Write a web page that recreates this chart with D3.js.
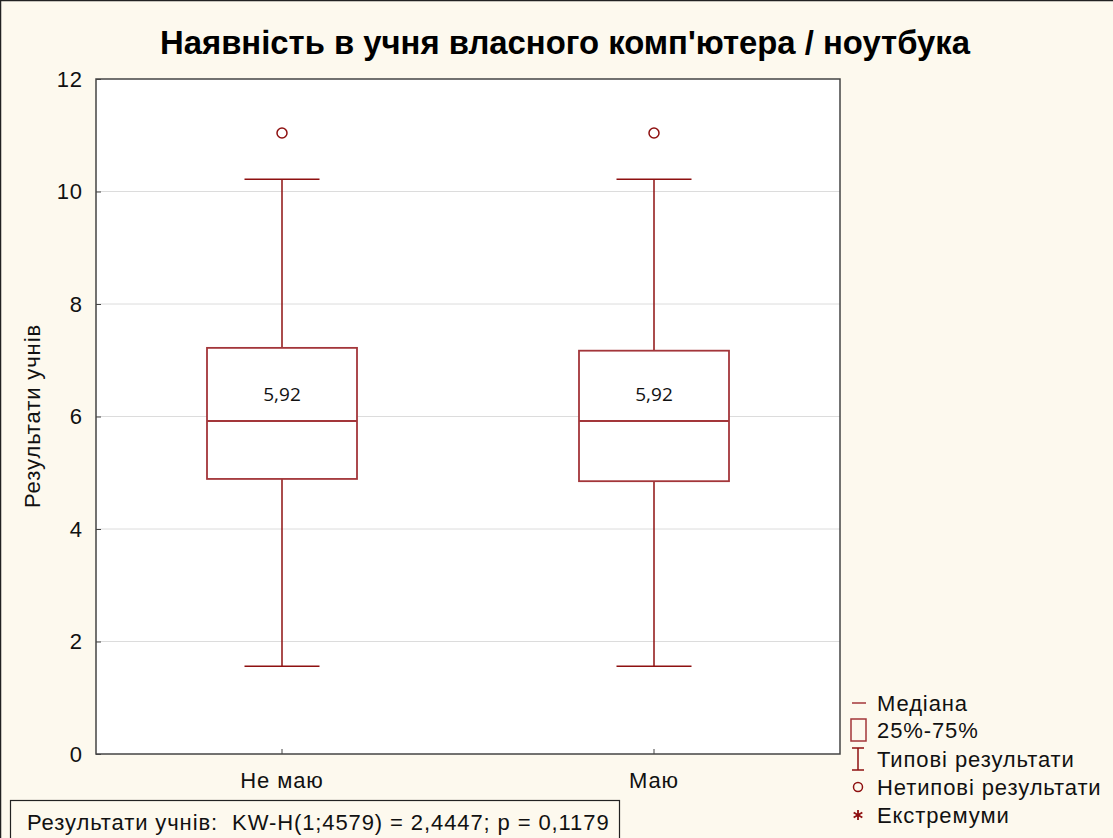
<!DOCTYPE html>
<html><head><meta charset="utf-8">
<script src="https://cdn.jsdelivr.net/npm/d3@7"></script>
<style>
html,body{margin:0;padding:0;background:#fdf9ee;}
svg{display:block;}
text{white-space:pre;}
</style></head>
<body>
<svg id="chart" width="1113" height="838" font-family="Liberation Sans, Arial, sans-serif"></svg>
<script>
const title = "Наявність в учня власного комп'ютера / ноутбука";
const categories = ["Не маю", "Маю"];
const q1 = [4.89, 4.85];
const median = [5.92, 5.92];
const q3 = [7.22, 7.17];
const whiskerLow = [1.56, 1.56];
const whiskerHigh = [10.22, 10.22];
const outliers = [[11.04], [11.04]];
const medianLabels = ["5,92", "5,92"];
const yTicks = [0, 2, 4, 6, 8, 10, 12];
const yLabel = "Результати учнів";
const statText = "Результати учнів:  KW-H(1;4579) = 2,4447; p = 0,1179";
const legendItems = ["Медіана", "25%-75%", "Типові результати", "Нетипові результати", "Екстремуми"];

const svg = d3.select("#chart");
const W = 1113, H = 838;
const red = "#8e1010";
const boxRed = "#a3363a";
const FS = 22, LS = 0.9;
const baseFont = "Liberation Sans, Arial, sans-serif";

svg.append("rect").attr("x",0.5).attr("y",0.5).attr("width",W+5).attr("height",H+5)
  .attr("fill","#fdf9ee").attr("stroke","#222").attr("stroke-width",1.5);

const m = {left:96, right:840, top:79, bottom:754};
const x = d3.scaleBand().domain(categories).range([m.left, m.right]);
const y = d3.scaleLinear().domain([0,12]).range([m.bottom, m.top]);

svg.append("rect").attr("x",m.left).attr("y",m.top).attr("width",m.right-m.left).attr("height",m.bottom-m.top)
  .attr("fill","#ffffff");

svg.append("g").selectAll("line").data(yTicks.filter(d=>d>0&&d<12)).join("line")
  .attr("x1",m.left).attr("x2",m.right).attr("y1",d=>y(d)).attr("y2",d=>y(d))
  .attr("stroke","#dcdcdc").attr("stroke-width",1);

const yAxis = d3.axisLeft(y).tickValues(yTicks).tickSize(-5).tickPadding(13).tickFormat(d3.format("d"));
const gy = svg.append("g").attr("transform",`translate(${m.left},0)`).call(yAxis);
gy.select(".domain").remove();
gy.selectAll("text").attr("font-size",FS).attr("letter-spacing",LS).attr("fill","#111").attr("font-family",baseFont);
gy.selectAll("line").attr("stroke","#444");

const xAxis = d3.axisBottom(x).tickSize(-5).tickPadding(18);
const gx = svg.append("g").attr("transform",`translate(0,${m.bottom})`).call(xAxis);
gx.select(".domain").remove();
gx.selectAll("text").attr("font-size",FS).attr("letter-spacing",LS).attr("fill","#111").attr("font-family",baseFont);
gx.selectAll("line").attr("stroke","#444");

svg.append("rect").attr("x",m.left).attr("y",m.top).attr("width",m.right-m.left).attr("height",m.bottom-m.top)
  .attr("fill","none").attr("stroke","#444").attr("stroke-width",1.5);

const boxW = 150, capW = 75;
categories.forEach((c,i)=>{
  const cx = x(c) + x.bandwidth()/2;
  const g = svg.append("g");
  g.append("line").attr("x1",cx).attr("x2",cx).attr("y1",y(whiskerHigh[i])).attr("y2",y(q3[i])).attr("stroke",red).attr("stroke-width",1.5);
  g.append("line").attr("x1",cx).attr("x2",cx).attr("y1",y(q1[i])).attr("y2",y(whiskerLow[i])).attr("stroke",red).attr("stroke-width",1.5);
  g.append("line").attr("x1",cx-capW/2).attr("x2",cx+capW/2).attr("y1",y(whiskerHigh[i])).attr("y2",y(whiskerHigh[i])).attr("stroke",red).attr("stroke-width",1.5);
  g.append("line").attr("x1",cx-capW/2).attr("x2",cx+capW/2).attr("y1",y(whiskerLow[i])).attr("y2",y(whiskerLow[i])).attr("stroke",red).attr("stroke-width",1.5);
  g.append("rect").attr("x",cx-boxW/2).attr("y",y(q3[i])).attr("width",boxW).attr("height",y(q1[i])-y(q3[i]))
    .attr("fill","#fff").attr("stroke",boxRed).attr("stroke-width",1.8);
  g.append("line").attr("x1",cx-boxW/2).attr("x2",cx+boxW/2).attr("y1",y(median[i])).attr("y2",y(median[i])).attr("stroke",boxRed).attr("stroke-width",1.8);
  g.append("text").attr("x",cx).attr("y",y(median[i])-20).attr("text-anchor","middle")
    .style("font-family","'Open Sans', 'DejaVu Sans', sans-serif").attr("font-size",19).attr("fill","#111").text(medianLabels[i]);
  g.selectAll("circle").data(outliers[i]).join("circle").attr("cx",cx).attr("cy",d=>y(d)).attr("r",5)
    .attr("fill","none").attr("stroke",red).attr("stroke-width",1.5);
});

svg.append("text").attr("x",565).attr("y",54).attr("text-anchor","middle")
  .style("font-family","'Liberation Sans Narrow', 'Arial Narrow', 'Liberation Sans', sans-serif")
  .attr("font-weight","bold").attr("font-size",34).attr("fill","#000")
  .attr("textLength",810).attr("lengthAdjust","spacingAndGlyphs").text(title);

svg.append("text").attr("transform","translate(40,416) rotate(-90)").attr("text-anchor","middle")
  .attr("font-size",FS).attr("letter-spacing",LS).attr("fill","#111").text(yLabel);

const ly = [703, 730, 759, 787, 815];
const lg = svg.append("g");
lg.append("line").attr("x1",852).attr("x2",866).attr("y1",ly[0]).attr("y2",ly[0]).attr("stroke",boxRed).attr("stroke-width",1.5);
lg.append("rect").attr("x",851).attr("y",ly[1]-11).attr("width",15).attr("height",22).attr("fill","none").attr("stroke",boxRed).attr("stroke-width",1.5);
lg.append("line").attr("x1",858).attr("x2",858).attr("y1",ly[2]-11).attr("y2",ly[2]+11).attr("stroke",red).attr("stroke-width",1.5);
lg.append("line").attr("x1",852).attr("x2",864).attr("y1",ly[2]-11).attr("y2",ly[2]-11).attr("stroke",red).attr("stroke-width",1.5);
lg.append("line").attr("x1",852).attr("x2",864).attr("y1",ly[2]+11).attr("y2",ly[2]+11).attr("stroke",red).attr("stroke-width",1.5);
lg.append("circle").attr("cx",858).attr("cy",ly[3]).attr("r",4.5).attr("fill","none").attr("stroke",red).attr("stroke-width",1.5);
lg.append("path").attr("d",d3.symbol(d3.symbolAsterisk,70)()).attr("transform",`translate(858,${ly[4]})`)
  .attr("fill","none").attr("stroke",red).attr("stroke-width",1.8);
lg.selectAll("text").data(legendItems).join("text").attr("x",877).attr("y",(d,i)=>ly[i]+8)
  .attr("font-size",FS).attr("letter-spacing",LS).attr("fill","#111").text(d=>d);

svg.append("rect").attr("x",10.5).attr("y",800.5).attr("width",609).attr("height",45)
  .attr("fill","#fdf9ee").attr("stroke","#222").attr("stroke-width",1.2);
svg.append("text").attr("x",27).attr("y",830).attr("font-size",FS).attr("letter-spacing",LS).attr("fill","#111").text(statText);
</script>
</body></html>
